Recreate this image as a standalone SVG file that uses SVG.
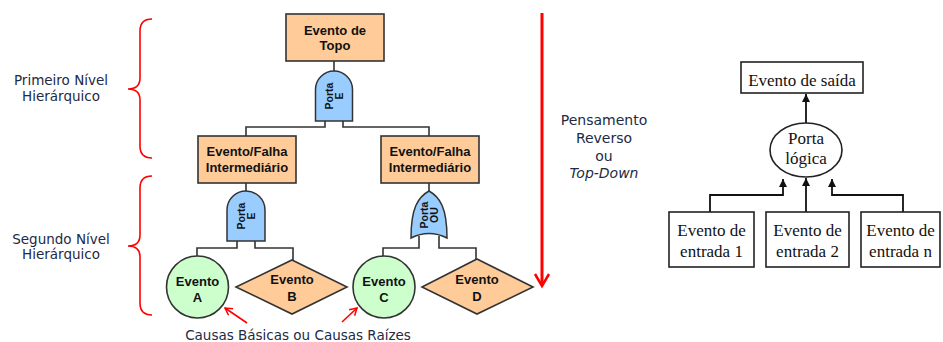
<svg xmlns="http://www.w3.org/2000/svg" width="943" height="342" viewBox="0 0 943 342">
<defs>
<style>
.box{fill:#FFCC99;stroke:#333;stroke-width:1.6}
.gate{fill:#99CCFF;stroke:#333;stroke-width:1.5}
.circ{fill:#CCFFCC;stroke:#333;stroke-width:1.6}
.ln{fill:none;stroke:#333;stroke-width:1.6}
.red{fill:none;stroke:#FF0000;stroke-width:1.6}
.bt{font-family:"Liberation Sans",Arial,sans-serif;font-weight:bold;font-size:13px;fill:#111;text-anchor:middle}
.gt{font-family:"Liberation Sans",Arial,sans-serif;font-weight:bold;font-size:10.5px;fill:#111;text-anchor:middle}
.vt{font-family:"DejaVu Sans",Verdana,sans-serif;font-size:13.5px;fill:#222a44;text-anchor:middle}
.pt{font-family:"DejaVu Sans",Verdana,sans-serif;font-size:14px;fill:#222a44;text-anchor:middle}
.tt{font-family:"Liberation Serif","Times New Roman",serif;font-size:17px;fill:#111;text-anchor:middle}
.rbox{fill:#fff;stroke:#222;stroke-width:1.6}
.arr{fill:none;stroke:#111;stroke-width:1.8}
</style>
<marker id="ah" markerWidth="10" markerHeight="10" refX="9" refY="5" orient="auto" markerUnits="userSpaceOnUse">
<path d="M1,1 L9,5 L1,9 Z" fill="#111"/>
</marker>
<marker id="rh" markerWidth="10" markerHeight="10" refX="9" refY="5" orient="auto" markerUnits="userSpaceOnUse">
<path d="M2,1 L9,5 L2,9" fill="none" stroke="#FF0000" stroke-width="1.5"/>
</marker>
</defs>
<rect width="943" height="342" fill="#fff"/>

<!-- braces and labels -->
<g id="nivel1">
<path class="red" d="M152,19 Q140,19 140,31 L140,78 Q140,89 128,89 Q140,89 140,100 L140,146 Q140,158 152,158"/>
<text class="vt" x="61" y="85">Primeiro Nível</text>
<text class="vt" x="61" y="101">Hierárquico</text>
</g>
<g id="nivel2">
<path class="red" d="M152,176 Q140,176 140,188 L140,235 Q140,246 128,246 Q140,246 140,257 L140,303 Q140,315 152,315"/>
<text class="vt" x="61" y="244">Segundo Nível</text>
<text class="vt" x="61" y="259">Hierárquico</text>
</g>

<!-- connectors -->
<g id="connectors">
<path class="ln" d="M334,61 V71"/>
<path class="ln" d="M325,121 V127 H246 V136"/>
<path class="ln" d="M343,121 V127 H429 V136"/>
<path class="ln" d="M246,183 V191"/>
<path class="ln" d="M429,183 V191"/>
<path class="ln" d="M237,241 V248 H197 V257"/>
<path class="ln" d="M255,241 V248 H293 V260"/>
<path class="ln" d="M419,236 V248 H383 V257"/>
<path class="ln" d="M439,236 V248 H476 V259"/>
<path class="red" d="M247,323 L225,308" marker-end="url(#rh)"/>
<path class="red" d="M342,322 L357,308" marker-end="url(#rh)"/>
<path d="M542,13 V285" stroke="#FF0000" stroke-width="3" fill="none"/>
<path d="M535,274 L542,286 L549,274" stroke="#FF0000" stroke-width="2.5" fill="none"/>
<path class="arr" d="M806,123 V94" marker-end="url(#ah)"/>
<path class="arr" d="M710,212 V195 H783 V179" marker-end="url(#ah)"/>
<path class="arr" d="M806,212 V178" marker-end="url(#ah)"/>
<path class="arr" d="M903,212 V195 H832 V179" marker-end="url(#ah)"/>
</g>

<g id="topo">
<rect class="box" x="286" y="14" width="98" height="47"/>
<text class="bt" x="335" y="34.5">Evento de</text>
<text class="bt" x="335" y="49.5">Topo</text>
</g>
<g id="porta1">
<path class="gate" d="M315.5,121 V89.5 A18.5,18.5 0 0 1 352.5,89.5 V121 Z"/>
<g transform="translate(334,96) rotate(-90)">
<text class="gt" x="0" y="-1.5">Porta</text>
<text class="gt" x="0" y="9">E</text>
</g>
</g>
<g id="inter1">
<rect class="box" x="198" y="136" width="98" height="47"/>
<text class="bt" x="247" y="155.5">Evento/Falha</text>
<text class="bt" x="247" y="171.5">Intermediário</text>
</g>
<g id="inter2">
<rect class="box" x="381" y="136" width="98" height="47"/>
<text class="bt" x="430" y="155.5">Evento/Falha</text>
<text class="bt" x="430" y="171.5">Intermediário</text>
</g>
<g id="porta2">
<path class="gate" d="M227,241 V210 A19,19 0 0 1 265,210 V241 Z"/>
<g transform="translate(246,216) rotate(-90)">
<text class="gt" x="0" y="-1.5">Porta</text>
<text class="gt" x="0" y="9">E</text>
</g>
</g>
<g id="porta3">
<path class="gate" d="M429,191 C440,197 447,208 447,238 Q429,229 411,238 C411,208 418,197 429,191 Z"/>
<g transform="translate(429,215) rotate(-90)">
<text class="gt" x="0" y="-1.5">Porta</text>
<text class="gt" x="0" y="9">OU</text>
</g>
</g>
<g id="eventoA">
<circle class="circ" cx="197.5" cy="287" r="31"/>
<text class="bt" x="197.5" y="285.5">Evento</text>
<text class="bt" x="197.5" y="301.5">A</text>
</g>
<g id="eventoB">
<path class="box" d="M292,260 L347,287 L292,314 L236,287 Z"/>
<text class="bt" x="292" y="283.5">Evento</text>
<text class="bt" x="292" y="300.5">B</text>
</g>
<g id="eventoC">
<circle class="circ" cx="384" cy="287" r="31"/>
<text class="bt" x="384" y="285.5">Evento</text>
<text class="bt" x="384" y="301.5">C</text>
</g>
<g id="eventoD">
<path class="box" d="M477,259 L533,287 L477,314 L422,287 Z"/>
<text class="bt" x="477" y="283.5">Evento</text>
<text class="bt" x="477" y="300.5">D</text>
</g>
<g id="causas">
<text class="vt" x="298" y="340">Causas Básicas ou Causas Raízes</text>
</g>
<g id="pensamento">
<text class="pt" x="604" y="125">Pensamento</text>
<text class="pt" x="604" y="143">Reverso</text>
<text class="pt" x="604" y="161">ou</text>
<text class="pt" x="604" y="178" font-style="italic">Top-Down</text>
</g>

<g id="saida">
<rect class="rbox" x="741" y="62" width="122" height="31"/>
<text class="tt" x="802" y="85.5">Evento de saída</text>
</g>
<g id="portalogica">
<ellipse class="rbox" cx="806" cy="150" rx="36" ry="27"/>
<text class="tt" x="806" y="143.5">Porta</text>
<text class="tt" x="806" y="163.5">lógica</text>
</g>
<g id="entrada1">
<rect class="rbox" x="669" y="212" width="85" height="55"/>
<text class="tt" x="711.5" y="235.5">Evento de</text>
<text class="tt" x="711.5" y="256.5">entrada 1</text>
</g>
<g id="entrada2">
<rect class="rbox" x="766" y="212" width="83" height="55"/>
<text class="tt" x="807.5" y="235.5">Evento de</text>
<text class="tt" x="807.5" y="256.5">entrada 2</text>
</g>
<g id="entradan">
<rect class="rbox" x="861" y="212" width="79" height="55"/>
<text class="tt" x="900.5" y="235.5">Evento de</text>
<text class="tt" x="900.5" y="256.5">entrada n</text>
</g>
</svg>
